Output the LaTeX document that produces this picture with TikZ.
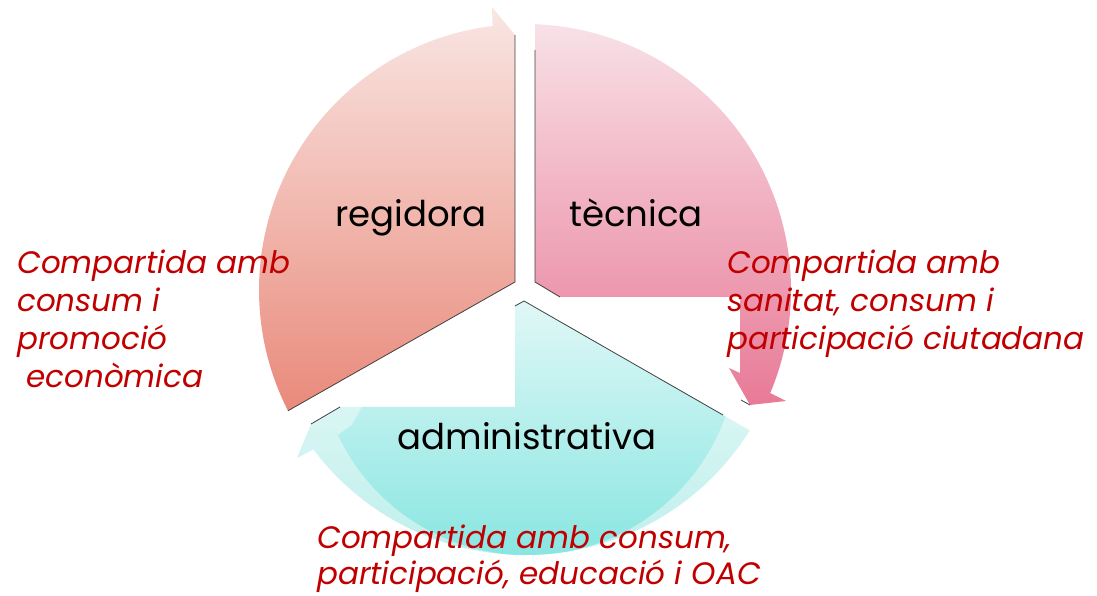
\documentclass[tikz,border=0pt]{standalone}
\usepackage{fontspec}
\setmainfont{Poppins}
\usetikzlibrary{calc}
\definecolor{redtxt}{HTML}{C00000}
\definecolor{regtop}{HTML}{F9E6E3}
\definecolor{regbot}{HTML}{E98A7B}
\definecolor{tectop}{HTML}{F8E1E7}
\definecolor{tecbot}{HTML}{E87A97}
\definecolor{admtop}{HTML}{ECFAF9}
\definecolor{admbot}{HTML}{BDEFEC}
\definecolor{admdtop}{HTML}{E2F8F7}
\definecolor{admdbot}{HTML}{7FE4DF}
\tikzset{
  label/.style={font=\fontsize{35.5}{40}\selectfont, text=black, inner sep=0pt},
  note/.style={font=\itshape\fontsize{31}{38}\selectfont, text=redtxt, align=left, inner sep=0pt, anchor=north west},
  edge/.style={draw=black!75, line width=0.8pt},
}
\begin{document}
\begin{tikzpicture}[x=1pt,y=1pt]
\useasboundingbox (0,0) rectangle (1097,596);
\coordinate (C) at (525,306);
% regidora segment
\shade[top color=regtop, bottom color=regbot]
  (515,561) -- (515,314) -- ($(C)+(207:266)$)
  arc[start angle=207, end angle=97, radius=266]
  -- (492,589) -- cycle;
\draw[edge] (515,561) -- (515,314) -- ($(C)+(207:266)$);
% tecnica segment
\shade[top color=tectop, bottom color=tecbot]
  (535,573) -- (535,314) -- (560,299) -- (740,299) -- (740,223)
  -- (729,228) -- (750,191) -- (786,195) -- ($(C)+(-22.8:266)$)
  arc[start angle=-22.8, end angle=87.9, radius=266] -- cycle;
\draw[edge] (535,546) -- (535,314) -- (560,299);
\draw[edge] (741,196) -- (750,191);
% administrativa segment
\shade[top color=admtop, bottom color=admbot]
  (524,295) -- (515,290) -- (515,189) -- (340,189) -- (311,172)
  -- (297,138) -- ($(C)+(217:265)$)
  arc[start angle=217, end angle=328, radius=265] -- cycle;
\begin{scope}
\clip (524,295) -- (515,290) -- (515,189) -- (340,189) -- (311,172)
  -- (297,138) -- ($(C)+(217:265)$)
  arc[start angle=217, end angle=328, radius=265] -- cycle;
\shade[top color=admdtop, bottom color=admdbot]
  (515,189) -- (362,189) -- (352,171) -- (338,161)
  arc[start angle=205.3, end angle=340.3, radius=210]
  -- (780,300) -- (515,300) -- cycle;
\end{scope}
\draw[edge] (515,290) -- (524,295) -- (723,181);
\draw[edge] (340,189) -- (311,172);
% labels
\node[label, anchor=base] (reg) at (411,369) {regidora};
\node[label, anchor=base] (tec) at (636,369) {tècnica};
\node[label, anchor=base] (adm) at (527,146) {administrativa};
% notes
\node[note] (nl) at (17,346) {Compartida amb\\consum i\\promoció\\\ econòmica};
\node[note] (nr) at (727,346) {Compartida amb\\sanitat, consum i\\participació ciutadana};
\node[note, font=\itshape\fontsize{31}{36}\selectfont] (nb) at (317,71) {Compartida amb consum,\\participació, educació i OAC};
\end{tikzpicture}
\end{document}
